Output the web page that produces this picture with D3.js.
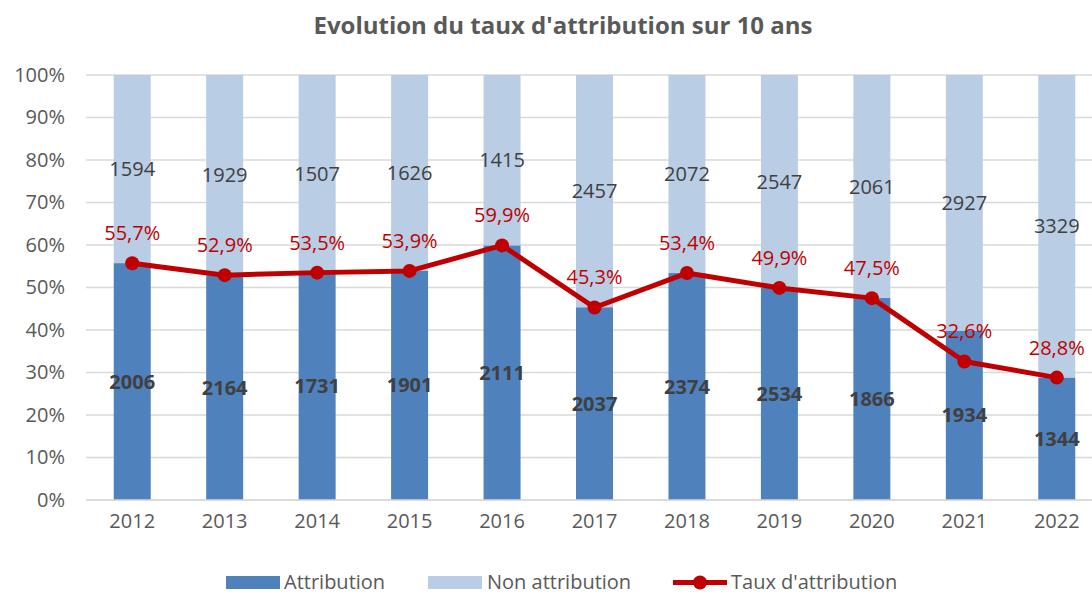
<!DOCTYPE html>
<html><head><meta charset="utf-8">
<script src="https://cdn.jsdelivr.net/npm/d3@7"></script>
<style>body{margin:0;background:#fff}svg{display:block}</style>
</head><body>
<svg id="c" width="1092" height="594"></svg>
<script>
const years = ["2012","2013","2014","2015","2016","2017","2018","2019","2020","2021","2022"];
const attribution = [2006,2164,1731,1901,2111,2037,2374,2534,1866,1934,1344];
const nonAttribution = [1594,1929,1507,1626,1415,2457,2072,2547,2061,2927,3329];
const taux = [55.7,52.9,53.5,53.9,59.9,45.3,53.4,49.9,47.5,32.6,28.8];
const yTicks = [0,10,20,30,40,50,60,70,80,90,100];

const svg = d3.select("#c");
const font = "'Open Sans', 'Noto Sans', sans-serif";
const fs = 20;
const cDark = "#4F81BD", cLight = "#B9CDE5", cRed = "#C00000", cText = "#595959";

const x = d3.scaleBand().domain(years).range([86, 1103]).paddingInner(0.6).paddingOuter(0.3);
const y = d3.scaleLinear().domain([0,100]).range([500, 75]);

// gridlines
svg.append("g").selectAll("line").data(yTicks).join("line")
  .attr("x1", 86).attr("x2", 1092).attr("y1", d=>y(d)).attr("y2", d=>y(d))
  .attr("stroke", "#D9D9D9").attr("stroke-width", 1.5);

// y axis labels
const yAxis = d3.axisLeft(y).tickValues(yTicks).tickFormat(d=>d+"%").tickSize(0).tickPadding(0);
const ya = svg.append("g").attr("transform","translate(65,0)").call(yAxis);
ya.select(".domain").remove();
ya.selectAll("text").attr("font-family", font).attr("font-size", fs).attr("fill", cText);

// bars
const data = years.map((yr,i)=>{
  const tot = attribution[i]+nonAttribution[i];
  return {yr, a: attribution[i], n: nonAttribution[i], pa: attribution[i]/tot*100, t: taux[i]};
});
const bars = svg.append("g");
bars.selectAll(".light").data(data).join("rect")
  .attr("x", d=>x(d.yr)).attr("width", x.bandwidth())
  .attr("y", y(100)).attr("height", d=>y(d.pa)-y(100)).attr("fill", cLight);
bars.selectAll(".dark").data(data).join("rect")
  .attr("x", d=>x(d.yr)).attr("width", x.bandwidth())
  .attr("y", d=>y(d.pa)).attr("height", d=>y(0)-y(d.pa)).attr("fill", cDark);

// axis line
svg.append("line").attr("x1",86).attr("x2",1092).attr("y1",y(0)).attr("y2",y(0))
  .attr("stroke","#D9D9D9").attr("stroke-width",1.5);

// x labels
const xAxis = d3.axisBottom(x).tickSize(0).tickPadding(0);
const xa = svg.append("g").attr("transform","translate(0,522)").call(xAxis);
xa.select(".domain").remove();
xa.selectAll("text").attr("font-family", font).attr("font-size", fs).attr("fill", cText).attr("dy","0.3em");

// count labels
const cx = d=>x(d.yr)+x.bandwidth()/2;
svg.append("g").selectAll("text").data(data).join("text")
  .attr("x", cx).attr("y", d=>y(d.pa/2)).attr("dy","0.35em")
  .attr("text-anchor","middle").attr("font-family",font).attr("font-size",fs)
  .attr("font-weight","bold").attr("fill","#404040").text(d=>d.a);
svg.append("g").selectAll("text").data(data).join("text")
  .attr("x", cx).attr("y", d=>y((d.pa+100)/2)).attr("dy","0.35em")
  .attr("text-anchor","middle").attr("font-family",font).attr("font-size",fs)
  .attr("fill","#404040").text(d=>d.n);

// line
const line = d3.line().x(cx).y(d=>y(d.t));
svg.append("path").datum(data).attr("d", line).attr("fill","none")
  .attr("stroke", cRed).attr("stroke-width", 5).attr("stroke-linejoin","round");
svg.append("g").selectAll("circle").data(data).join("circle")
  .attr("cx", cx).attr("cy", d=>y(d.t)).attr("r", 7).attr("fill", cRed);
svg.append("g").selectAll("text").data(data).join("text")
  .attr("x", cx).attr("y", d=>y(d.t)-23)
  .attr("text-anchor","middle").attr("font-family",font).attr("font-size",fs)
  .attr("fill", cRed).text(d=>d.t.toFixed(1).replace(".",",")+"%");

// title
svg.append("text").attr("x", 563).attr("y", 34).attr("text-anchor","middle")
  .attr("font-family",font).attr("font-size",24).attr("font-weight","bold")
  .attr("fill", cText).text("Evolution du taux d'attribution sur 10 ans");

// legend
const lg = svg.append("g").attr("font-family",font).attr("font-size",fs).attr("fill",cText);
lg.append("rect").attr("x",226).attr("y",576).attr("width",54).attr("height",13).attr("fill",cDark);
lg.append("text").attr("x",284).attr("y",589).text("Attribution");
lg.append("rect").attr("x",428).attr("y",576).attr("width",54).attr("height",13).attr("fill",cLight);
lg.append("text").attr("x",487).attr("y",589).text("Non attribution");
lg.append("line").attr("x1",673).attr("x2",727).attr("y1",582.5).attr("y2",582.5).attr("stroke",cRed).attr("stroke-width",5);
lg.append("circle").attr("cx",700).attr("cy",582.5).attr("r",7).attr("fill",cRed);
lg.append("text").attr("x",731).attr("y",589).text("Taux d'attribution");
</script>
</body></html>
